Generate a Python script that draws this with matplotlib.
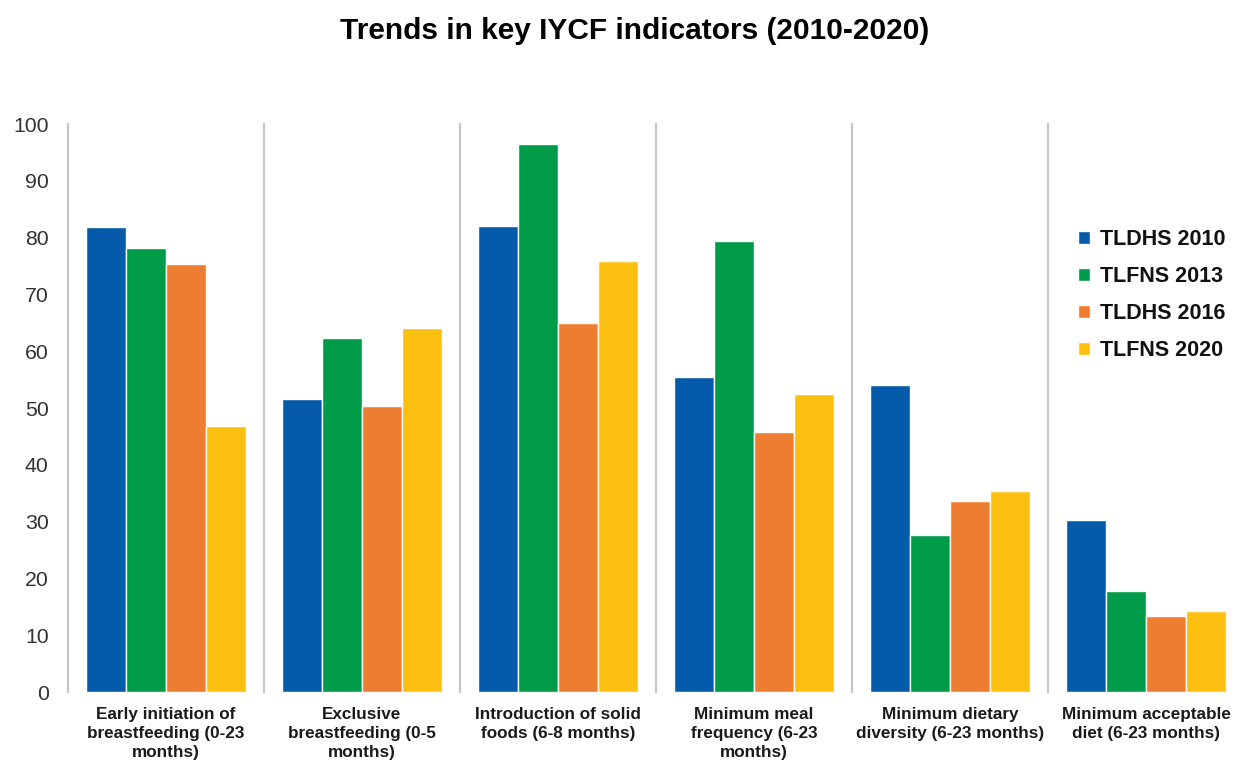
import matplotlib
matplotlib.use("Agg")
import matplotlib.pyplot as plt
import numpy as np

categories = [
    "Early initiation of\nbreastfeeding (0-23\nmonths)",
    "Exclusive\nbreastfeeding (0-5\nmonths)",
    "Introduction of solid\nfoods (6-8 months)",
    "Minimum meal\nfrequency (6-23\nmonths)",
    "Minimum dietary\ndiversity (6-23 months)",
    "Minimum acceptable\ndiet (6-23 months)",
]
series_names = ["TLDHS 2010", "TLFNS 2013", "TLDHS 2016", "TLFNS 2020"]
tldhs_2010 = [81.8, 51.6, 82.1, 55.4, 54.0, 30.3]
tlfns_2013 = [78.1, 62.3, 96.5, 79.4, 27.6, 17.7]
tldhs_2016 = [75.4, 50.4, 65.0, 45.7, 33.7, 13.4]
tlfns_2020 = [46.8, 64.1, 75.9, 52.4, 35.3, 14.2]
y_ticks = [0, 10, 20, 30, 40, 50, 60, 70, 80, 90, 100]

colors = ["#065AAA", "#009B48", "#ED7D31", "#FDC010"]

plt.rcParams["font.family"] = ["Liberation Sans", "DejaVu Sans"]

W, H = 1235, 761
fig = plt.figure(figsize=(W / 100, H / 100), dpi=100)
left, right, top, bottom = 68, 68 + 6 * 196, 124, 692
ax = fig.add_axes([left / W, (H - bottom) / H, (right - left) / W, (bottom - top) / H])

x = np.arange(len(categories))
bw = 0.203
all_series = [tldhs_2010, tlfns_2013, tldhs_2016, tlfns_2020]
for i, (vals, name, c) in enumerate(zip(all_series, series_names, colors)):
    ax.bar(x + (i - 1.5) * bw, vals, width=bw, color=c, edgecolor="white",
           linewidth=1.0, label=name, zorder=3)

# category separators
for b in np.arange(-0.5, len(categories), 1.0):
    ax.plot([b, b], [0, 100], color="#c6c6c6", linewidth=1.6, zorder=1,
            clip_on=False)

ax.set_xlim(-0.5, len(categories) - 0.5)
ax.set_ylim(0, 100)
ax.set_yticks(y_ticks)
ax.set_yticklabels([str(t) for t in y_ticks], fontsize=15.3, color="#333333")
ax.set_xticks(x)
ax.set_xticklabels(categories, fontsize=12.3, fontweight="bold", color="#1a1a1a",
                   linespacing=1.32)
ax.tick_params(axis="y", length=0, pad=14)
ax.tick_params(axis="x", length=0, pad=11)
for s in ax.spines.values():
    s.set_visible(False)

fig.text(635 / W, 1 - 31 / H, "Trends in key IYCF indicators (2010-2020)",
         ha="center", va="center", fontsize=21.5, fontweight="bold", color="#000000")

leg = ax.legend(loc="upper left", bbox_to_anchor=(1078 / W, 1 - 229 / H),
                bbox_transform=fig.transFigure, frameon=False,
                prop={"size": 15.5, "weight": "bold"},
                handlelength=0.55, handleheight=0.55, handletextpad=0.45,
                labelspacing=0.74, borderpad=0, borderaxespad=0)
for t in leg.get_texts():
    t.set_color("#111111")

fig.savefig("out.png", dpi=100)
